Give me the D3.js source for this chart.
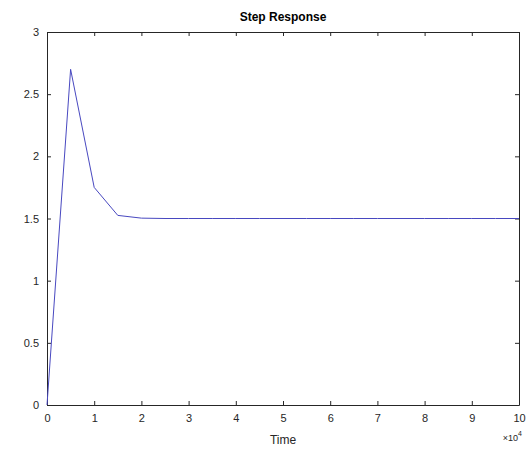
<!DOCTYPE html>
<html>
<head>
<meta charset="utf-8">
<script src="https://cdn.jsdelivr.net/npm/d3@7"></script>
<style>
  html, body { margin: 0; padding: 0; background: #fff; }
  svg { display: block; }
  text { font-family: "Liberation Sans", Arial, Helvetica, sans-serif; }
</style>
</head>
<body>
<svg id="chart" width="532" height="454"></svg>
<script>
// Step response samples (time in seconds, output amplitude)
const times = [0, 5000, 10000, 15000, 20000, 25000, 30000, 35000, 40000, 45000, 50000,
               55000, 60000, 65000, 70000, 75000, 80000, 85000, 90000, 95000, 100000];
const response = [0, 2.70, 1.75, 1.525, 1.503, 1.5, 1.5, 1.5, 1.5, 1.5, 1.5,
                  1.5, 1.5, 1.5, 1.5, 1.5, 1.5, 1.5, 1.5, 1.5, 1.5];
const xTicks = [0, 1, 2, 3, 4, 5, 6, 7, 8, 9, 10];        // in units of 10^4
const yTicks = [0, 0.5, 1, 1.5, 2, 2.5, 3];
const titleText = "Step Response";
const xLabel = "Time";

const svg = d3.select("#chart");
const margin = { left: 47, right: 13, top: 32, bottom: 49 };
const W = 532, H = 454;
const x0 = margin.left, x1 = W - margin.right;
const y0 = H - margin.bottom, y1 = margin.top;

const x = d3.scaleLinear().domain([0, 100000]).range([x0, x1]);
const y = d3.scaleLinear().domain([0, 3]).range([y0, y1]);

const axisColor = "#262626";
const tickLen = 4;

// plot background
svg.append("rect").attr("x", x0).attr("y", y1).attr("width", x1 - x0).attr("height", y0 - y1)
  .attr("fill", "#fff");

// bottom axis
const xb = svg.append("g").attr("transform", `translate(0,${y0})`)
  .call(d3.axisBottom(x).tickValues(xTicks.map(t => t * 10000))
    .tickFormat((d, i) => String(xTicks[i])).tickSizeInner(-tickLen).tickSizeOuter(0).tickPadding(9));
// top axis (ticks only)
const xt = svg.append("g").attr("transform", `translate(0,${y1})`)
  .call(d3.axisTop(x).tickValues(xTicks.map(t => t * 10000)).tickFormat("")
    .tickSizeInner(-tickLen).tickSizeOuter(0));
// left axis
const yl = svg.append("g").attr("transform", `translate(${x0},0)`)
  .call(d3.axisLeft(y).tickValues(yTicks).tickFormat(d3.format("~g"))
    .tickSizeInner(-tickLen).tickSizeOuter(0).tickPadding(8));
// right axis (ticks only)
const yr = svg.append("g").attr("transform", `translate(${x1},0)`)
  .call(d3.axisRight(y).tickValues(yTicks).tickFormat("")
    .tickSizeInner(-tickLen).tickSizeOuter(0));

[xb, xt, yl, yr].forEach(g => {
  g.select(".domain").attr("stroke", axisColor).attr("stroke-width", 1);
  g.selectAll(".tick line").attr("stroke", axisColor);
  g.selectAll(".tick text").attr("fill", axisColor).attr("font-size", 11);
});

// response line
const line = d3.line().x((d, i) => x(times[i])).y(d => y(d));
svg.append("path").datum(response)
  .attr("d", line)
  .attr("fill", "none")
  .attr("stroke", "#4848c0")
  .attr("stroke-width", 1);

// title
svg.append("text").attr("x", (x0 + x1) / 2).attr("y", 21)
  .attr("text-anchor", "middle").attr("font-size", 12).attr("font-weight", "bold")
  .attr("fill", "#000").text(titleText);

// x label
svg.append("text").attr("x", (x0 + x1) / 2).attr("y", 444)
  .attr("text-anchor", "middle").attr("font-size", 12)
  .attr("fill", axisColor).text(xLabel);

// exponent marker
const ex = svg.append("text").attr("x", x1 + 3).attr("y", 441)
  .attr("text-anchor", "end").attr("font-size", 9).attr("fill", axisColor);
ex.append("tspan").text("\u00d710");
ex.append("tspan").attr("font-size", 7).attr("dy", -5).text("4");
</script>
</body>
</html>
